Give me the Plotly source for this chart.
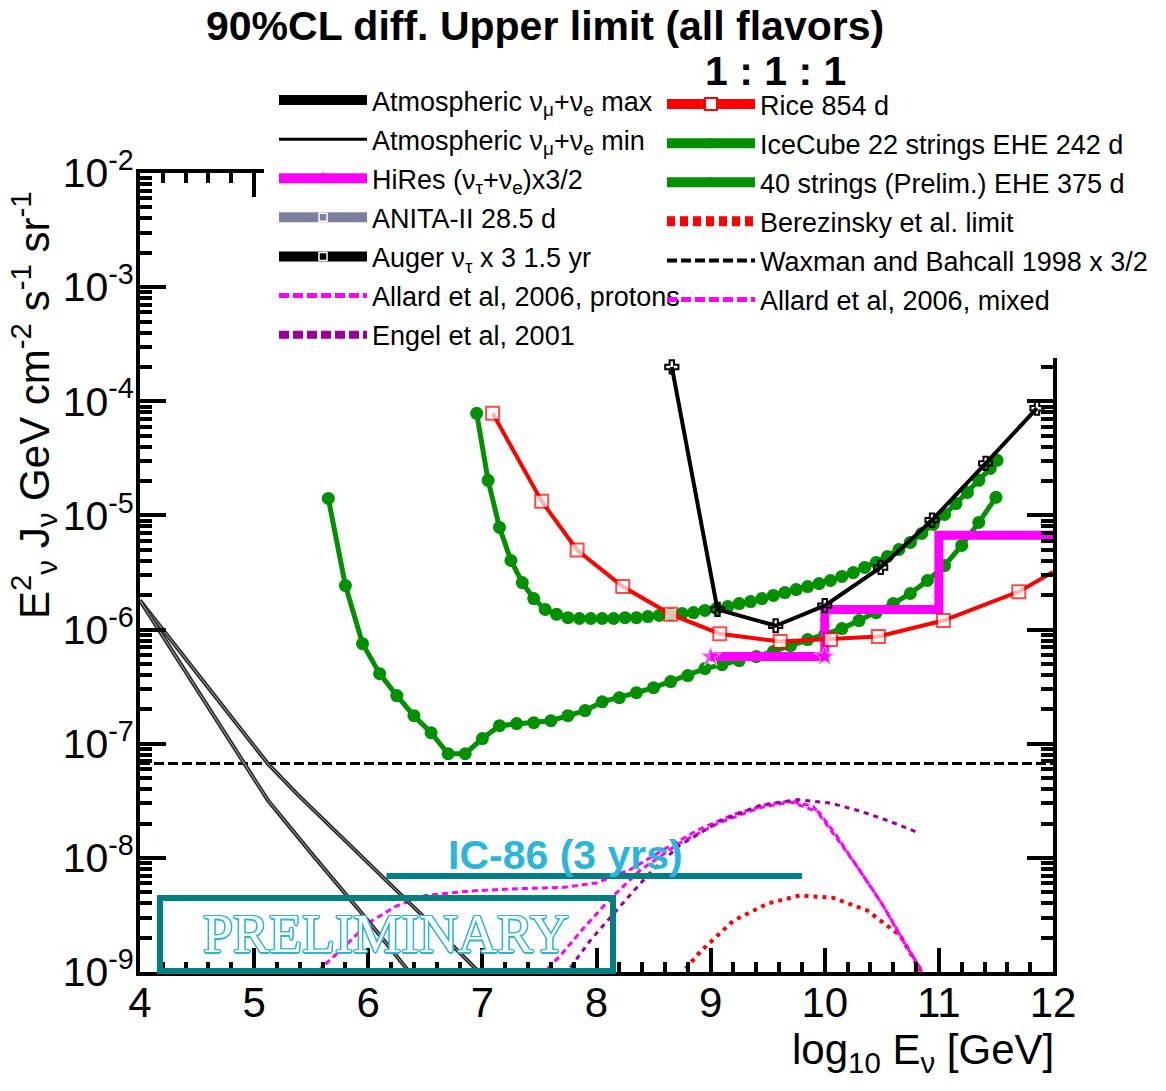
import plotly.graph_objects as go

# ---------------- data (log10 E [GeV], E^2 J  [GeV cm^-2 s^-1 sr^-1]) ----------------
atm_max_x = [4.0, 4.5, 5.0, 5.12, 5.38, 6.0, 6.5, 6.97]
atm_max_y = [1.8e-6, 4.1e-7, 9.5e-8, 6.7e-8, 3.6e-8, 9.1e-9, 2.95e-9, 1.0e-9]

atm_min_x = [4.0, 4.5, 4.92, 5.12, 5.5, 6.0, 6.36]
atm_min_y = [1.8e-6, 3.0e-7, 6.7e-8, 3.2e-8, 1.1e-8, 2.8e-9, 1.0e-9]

rice_x = [7.09, 7.52, 7.83, 8.23, 8.65, 9.08, 9.61, 10.05, 10.47, 11.04, 11.70, 12.0]
rice_y = [7.85e-5, 1.33e-5, 4.98e-6, 2.38e-6, 1.36e-6, 9.2e-7, 7.85e-7, 8.2e-7,
          8.7e-7, 1.2e-6, 2.15e-6, 3.2e-6]

auger_x = [8.66, 9.06, 9.57, 10.0, 10.49, 10.94, 11.41, 11.86]
auger_y = [2.0e-4, 1.5e-6, 1.08e-6, 1.62e-6, 3.5e-6, 9.1e-6, 2.86e-5, 8.7e-5]

hires_x = [9.0, 10.0, 10.0, 11.0, 11.0, 12.0]
hires_y = [5.8e-7, 5.8e-7, 1.5e-6, 1.5e-6, 6.7e-6, 6.7e-6]

ic22_x = [6.95, 7.05, 7.15, 7.25, 7.35, 7.45, 7.55, 7.65, 7.75, 7.85, 7.95, 8.05,
          8.15, 8.25, 8.35, 8.45, 8.55, 8.65, 8.75, 8.85, 8.95, 9.05, 9.15, 9.25,
          9.35, 9.45, 9.55, 9.65, 9.75, 9.85, 9.95, 10.05, 10.15, 10.25, 10.35,
          10.45, 10.55, 10.65, 10.75, 10.85, 10.95, 11.05, 11.15, 11.25, 11.35,
          11.45, 11.51]
ic22_y = [7.85e-5, 2.03e-5, 7.85e-6, 4.03e-6, 2.58e-6, 1.87e-6, 1.50e-6, 1.36e-6,
          1.27e-6, 1.25e-6, 1.25e-6, 1.25e-6, 1.25e-6, 1.27e-6, 1.27e-6, 1.30e-6,
          1.33e-6, 1.36e-6, 1.38e-6, 1.41e-6, 1.47e-6, 1.53e-6, 1.59e-6, 1.69e-6,
          1.76e-6, 1.87e-6, 1.99e-6, 2.11e-6, 2.24e-6, 2.38e-6, 2.53e-6, 2.69e-6,
          2.92e-6, 3.16e-6, 3.50e-6, 3.87e-6, 4.37e-6, 5.03e-6, 5.80e-6, 6.95e-6,
          8.34e-6, 1.02e-5, 1.27e-5, 1.59e-5, 2.03e-5, 2.58e-5, 3.04e-5]

ic40_x = [5.65, 5.80, 5.95, 6.10, 6.25, 6.40, 6.55, 6.70, 6.85, 7.00, 7.15, 7.30,
          7.45, 7.60, 7.75, 7.90, 8.05, 8.20, 8.35, 8.50, 8.65, 8.80, 8.95, 9.10,
          9.25, 9.40, 9.55, 9.70, 9.85, 10.00, 10.15, 10.30, 10.45, 10.60, 10.75,
          10.90, 11.05, 11.20, 11.35, 11.50]
ic40_y = [1.41e-5, 2.43e-6, 7.53e-7, 4.11e-7, 2.64e-7, 1.76e-7, 1.25e-7, 8.17e-8,
          8.17e-8, 1.11e-7, 1.44e-7, 1.50e-7, 1.53e-7, 1.59e-7, 1.76e-7, 1.95e-7,
          2.33e-7, 2.53e-7, 2.80e-7, 3.10e-7, 3.50e-7, 3.95e-7, 4.55e-7, 4.93e-7,
          5.35e-7, 5.80e-7, 6.41e-7, 7.24e-7, 8.17e-7, 9.04e-7, 1.02e-6, 1.20e-6,
          1.41e-6, 1.69e-6, 2.07e-6, 2.69e-6, 3.64e-6, 5.46e-6, 8.69e-6, 1.44e-5]

allard_p_x = [5.56, 5.8, 6.0, 6.25, 6.5, 6.9, 7.3, 7.7, 8.0, 8.3, 8.6, 8.9, 9.2,
              9.5, 9.7, 9.9, 10.1, 10.3, 10.5, 10.7, 10.84]
allard_p_y = [1.02e-9, 1.70e-9, 2.69e-9, 3.80e-9, 4.68e-9, 5.13e-9, 5.37e-9, 5.50e-9,
              6.03e-9, 7.94e-9, 1.20e-8, 1.78e-8, 2.40e-8, 2.95e-8, 3.16e-8, 2.82e-8,
              1.51e-8, 7.94e-9, 3.98e-9, 1.78e-9, 1.07e-9]

allard_mix_x = [7.51, 7.68, 7.90, 8.12, 8.38, 8.73, 9.08, 9.43, 9.70, 9.95, 10.1,
                10.3, 10.5, 10.7, 10.85]
allard_mix_y = [9.3e-10, 1.38e-9, 2.51e-9, 4.37e-9, 7.76e-9, 1.35e-8, 2.04e-8, 2.75e-8,
                3.09e-8, 2.51e-8, 1.58e-8, 7.94e-9, 3.98e-9, 1.82e-9, 1.0e-9]

engel_x = [7.72, 7.94, 8.21, 8.47, 8.73, 9.08, 9.43, 9.76, 10.05, 10.31, 10.57, 10.82]
engel_y = [9.3e-10, 1.86e-9, 3.80e-9, 7.41e-9, 1.29e-8, 2.09e-8, 2.88e-8, 3.24e-8,
           3.02e-8, 2.57e-8, 2.09e-8, 1.66e-8]

berez_x = [8.73, 8.91, 9.20, 9.50, 9.78, 10.07, 10.37, 10.66, 10.86]
berez_y = [9.3e-10, 1.51e-9, 2.82e-9, 3.98e-9, 4.68e-9, 4.47e-9, 3.47e-9, 2.09e-9, 9.5e-10]

wb_x = [4.0, 12.0]
wb_y = [6.7e-8, 6.7e-8]

ic86_x = [6.16, 9.80]
ic86_y = [6.95e-9, 6.95e-9]

x_ticks = [4, 5, 6, 7, 8, 9, 10, 11, 12]
y_exps = [-9, -8, -7, -6, -5, -4, -3, -2]

# ---------------- geometry / style ----------------
W, H = 1166, 1091
ML, MR, MT, MB = 140, 113, 173, 119
PW, PH = W - ML - MR, H - MT - MB

def px_x(p):
    return (p - ML) / PW

def px_y(p):
    return (H - MB - p) / PH

SANS = "Liberation Sans, Arial, sans-serif"
GREEN = "#009000"
RED = "#ff0000"
MAGENTA = "#ff00ff"
PURPLE = "#990099"
TEAL = "#008080"
CYAN = "#29b6d9"

fig = go.Figure()


def curve(x, y, **kw):
    fig.add_trace(go.Scatter(x=x, y=y, showlegend=False, hoverinfo="skip", **kw))


# model / bound curves
curve(wb_x, wb_y, mode="lines", line=dict(color="black", width=3, dash="10px,4px"))
curve(berez_x, berez_y, mode="lines", line=dict(color=RED, width=4, dash="4px,5px"))
curve(allard_p_x, allard_p_y, mode="lines", line=dict(color=MAGENTA, width=3, dash="6px,4px"))
curve(allard_mix_x, allard_mix_y, mode="lines", line=dict(color=MAGENTA, width=3, dash="6px,4px"))
curve(engel_x, engel_y, mode="lines", line=dict(color=PURPLE, width=3, dash="5px,5px"))

# atmospheric neutrino band edges (drawn as hollow double lines)
for ax_, ay_ in ((atm_max_x, atm_max_y), (atm_min_x, atm_min_y)):
    curve(ax_, ay_, mode="lines", line=dict(color="#2a2a2a", width=4))
    curve(ax_, ay_, mode="lines", line=dict(color="#aaaaaa", width=1))

# IC-86 sensitivity
curve(ic86_x, ic86_y, mode="lines", line=dict(color=TEAL, width=6))

# IceCube EHE limits
curve(ic40_x, ic40_y, mode="lines+markers", line=dict(color=GREEN, width=5),
      marker=dict(symbol="circle", size=13, color=GREEN))
curve(ic22_x, ic22_y, mode="lines+markers", line=dict(color=GREEN, width=5),
      marker=dict(symbol="circle", size=13, color=GREEN))

# HiRes
hires_sizes = [16, 16, 0, 0, 0, 0]
curve(hires_x, hires_y, mode="lines+markers", line=dict(color=MAGENTA, width=9),
      marker=dict(symbol="star", size=hires_sizes, color=MAGENTA))

# Auger
curve(auger_x, auger_y, mode="lines+markers", line=dict(color="black", width=4),
      marker=dict(symbol="cross-open", size=11, color="black", line=dict(width=2, color="black")))

# RICE
rice_sizes = [13] * (len(rice_x) - 1) + [0]
curve(rice_x, rice_y, mode="lines+markers", line=dict(color=RED, width=4),
      marker=dict(symbol="square", size=rice_sizes, color="white", line=dict(width=2, color=RED)))


# ---------------- legend entries ----------------
def entry(name, legend, line, marker=None):
    kw = dict(x=[None], y=[None], name=name, legend=legend, legendgroup=name,
              showlegend=True, hoverinfo="skip", line=line)
    if marker is None:
        kw["mode"] = "lines"
    else:
        kw["mode"] = "lines+markers"
        kw["marker"] = marker
    fig.add_trace(go.Scatter(**kw))


entry("Atmospheric ν<sub>μ</sub>+ν<sub>e</sub> max", "legend", dict(color="black", width=10))
entry("Atmospheric ν<sub>μ</sub>+ν<sub>e</sub> min", "legend", dict(color="black", width=3))
entry("HiRes (ν<sub>τ</sub>+ν<sub>e</sub>)x3/2", "legend", dict(color=MAGENTA, width=10),
      dict(symbol="star", size=10, color=MAGENTA))
entry("ANITA-II 28.5 d", "legend", dict(color="#7f7f9f", width=10),
      dict(symbol="square", size=8, color="#7f7f9f", line=dict(color="white", width=1.5)))
entry("Auger ν<sub>τ</sub> x 3 1.5 yr", "legend", dict(color="black", width=10),
      dict(symbol="square", size=8, color="black", line=dict(color="white", width=1.5)))
entry("Allard et al, 2006, protons", "legend", dict(color=MAGENTA, width=5, dash="10px,4px"))
entry("Engel et al, 2001", "legend", dict(color=PURPLE, width=8, dash="10px,4px"))

entry("Rice 854 d", "legend2", dict(color=RED, width=10),
      dict(symbol="square", size=12, color="white", line=dict(color=RED, width=2)))
entry("IceCube 22 strings EHE 242 d", "legend2", dict(color=GREEN, width=10),
      dict(symbol="circle", size=10, color=GREEN))
entry("40 strings (Prelim.) EHE 375 d", "legend2", dict(color=GREEN, width=10),
      dict(symbol="circle", size=10, color=GREEN))
entry("Berezinsky et al. limit", "legend2", dict(color=RED, width=10, dash="8px,5px"))
entry("Waxman and Bahcall 1998 x 3/2", "legend2", dict(color="black", width=4, dash="10px,4px"))
entry("Allard et al, 2006, mixed", "legend2", dict(color=MAGENTA, width=5, dash="10px,4px"))

legend_common = dict(
    xanchor="left", yanchor="top", bgcolor="rgba(0,0,0,0)", borderwidth=0,
    font=dict(family=SANS, size=27, color="black"), itemwidth=88,
    tracegroupgap=1, traceorder="grouped",
)

# ---------------- axes ----------------
minor_y = [k * 10.0 ** e for e in range(-9, -2) for k in range(2, 10)]

fig.update_layout(
    width=W, height=H,
    margin=dict(l=ML, r=MR, t=MT, b=MB),
    paper_bgcolor="white", plot_bgcolor="white",
    showlegend=True,
    legend=dict(x=px_x(274), y=px_y(76), **legend_common),
    legend2=dict(x=px_x(662), y=px_y(80), **legend_common),
    xaxis=dict(
        range=[4, 12], tickmode="array", tickvals=x_ticks,
        ticktext=[str(v) for v in x_ticks],
        showline=True, linewidth=4, linecolor="black", mirror="ticks",
        ticks="inside", ticklen=24, tickwidth=4, tickcolor="black",
        showgrid=False, zeroline=False, ticklabelstandoff=-9,
        tickfont=dict(family=SANS, size=42, color="black"),
        minor=dict(dtick=0.2, tick0=4, ticks="inside", ticklen=10, tickwidth=4,
                   tickcolor="black", showgrid=False),
    ),
    yaxis=dict(
        type="log", range=[-9, -2], tickmode="array",
        tickvals=[10.0 ** e for e in y_exps],
        ticktext=["10<sup>%d</sup>" % e for e in y_exps],
        showline=True, linewidth=4, linecolor="black", mirror="ticks",
        ticks="inside", ticklen=26, tickwidth=4, tickcolor="black",
        showgrid=False, zeroline=False, ticklabelstandoff=-6,
        tickfont=dict(family=SANS, size=41, color="black"),
        minor=dict(tickmode="array", tickvals=minor_y, ticks="inside", ticklen=12,
                   tickwidth=4, tickcolor="black", showgrid=False),
    ),
)

# white panel behind the legend, hiding the upper frame
fig.add_shape(type="rect", xref="paper", yref="paper",
              x0=px_x(264), x1=px_x(W + 10), y0=px_y(358), y1=px_y(-10),
              fillcolor="white", line=dict(width=0), layer="above")

# PRELIMINARY box
fig.add_shape(type="rect", xref="paper", yref="paper",
              x0=px_x(160), x1=px_x(613), y0=px_y(971), y1=px_y(898),
              fillcolor="rgba(0,0,0,0)", line=dict(color=TEAL, width=6), layer="above")

outline = ", ".join("%spx %spx 0 %s" % (dx, dy, CYAN) for dx, dy in
                    [(1.5, 0), (-1.5, 0), (0, 1.5), (0, -1.5), (1, 1), (-1, -1), (1, -1), (-1, 1)])

annotations = [
    dict(text="<b>90%CL diff. Upper limit (all flavors)</b>", x=px_x(545), y=px_y(26),
         font=dict(family=SANS, size=41, color="black")),
    dict(text="<b>1 : 1 : 1</b>", x=px_x(775), y=px_y(71),
         font=dict(family=SANS, size=41, color="black")),
    dict(text="<b>IC-86 (3 yrs)</b>", x=px_x(565), y=px_y(855),
         font=dict(family=SANS, size=41, color=CYAN)),
    dict(text="PRELIMINARY", x=px_x(386), y=px_y(934),
         font=dict(family="Liberation Serif, DejaVu Serif, serif", size=54, color="white",
                   shadow=outline)),
    dict(text="E<sup>2</sup><sub>ν</sub> J<sub>ν</sub> GeV cm<sup>-2</sup> s<sup>-1</sup> sr<sup>-1</sup>",
         x=px_x(33), y=px_y(405), textangle=-90,
         font=dict(family=SANS, size=42, color="black")),
    dict(text="log<sub>10</sub> E<sub>ν</sub> [GeV]", x=px_x(1056), y=px_y(1052),
         xanchor="right", font=dict(family=SANS, size=42, color="black")),
]
for a in annotations:
    a.setdefault("xanchor", "center")
    fig.add_annotation(xref="paper", yref="paper", yanchor="middle", showarrow=False, **a)

fig.write_html("out.html")
